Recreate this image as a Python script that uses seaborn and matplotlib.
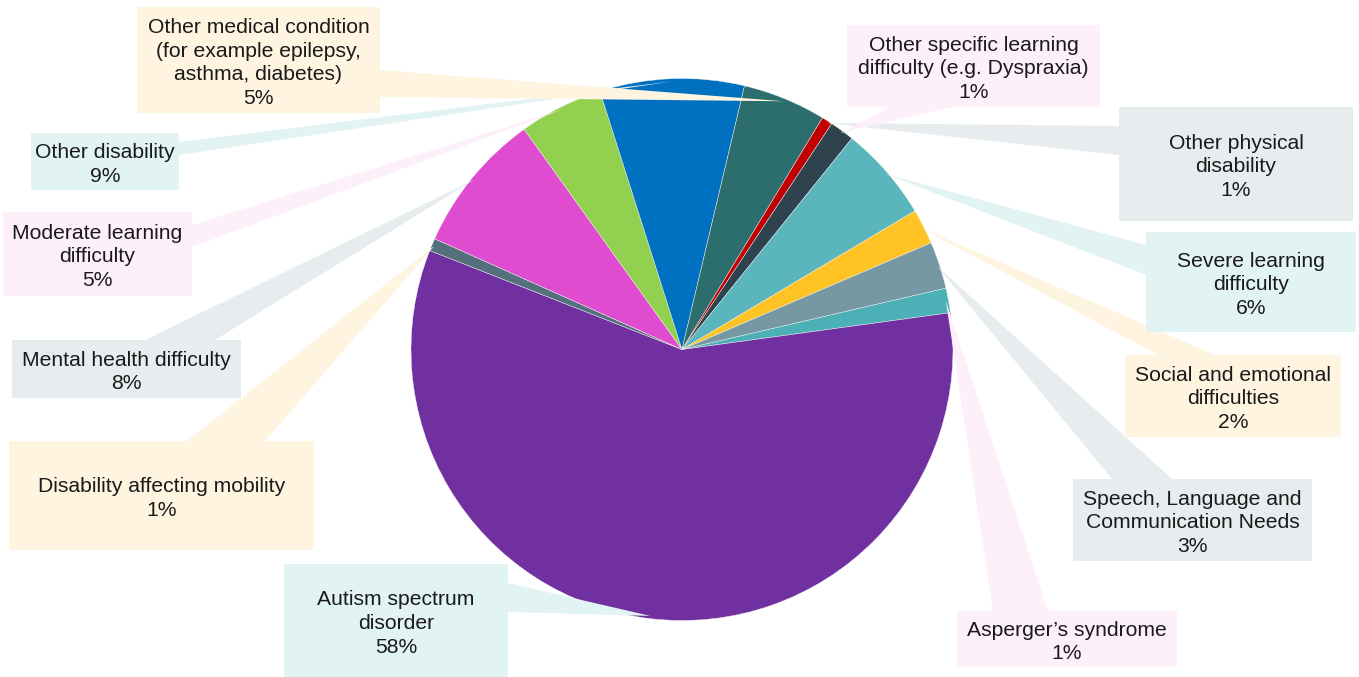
import numpy as np
import pandas as pd
import matplotlib
matplotlib.use("Agg")
import matplotlib.pyplot as plt
from matplotlib.patches import Rectangle, Polygon
import seaborn as sns

# ---------------- data ----------------
categories = [
    "Asperger’s syndrome",
    "Autism spectrum disorder",
    "Disability affecting mobility",
    "Mental health difficulty",
    "Moderate learning difficulty",
    "Other disability",
    "Other medical condition (for example epilepsy, asthma, diabetes)",
    "Other physical disability",
    "Other specific learning difficulty (e.g. Dyspraxia)",
    "Severe learning difficulty",
    "Social and emotional difficulties",
    "Speech, Language and Communication Needs",
]
label_lines = [
    "Asperger’s syndrome",
    "Autism spectrum\ndisorder",
    "Disability affecting mobility",
    "Mental health difficulty",
    "Moderate learning\ndifficulty",
    "Other disability",
    "Other medical condition\n(for example epilepsy,\nasthma, diabetes)",
    "Other physical\ndisability",
    "Other specific learning\ndifficulty (e.g. Dyspraxia)",
    "Severe learning\ndifficulty",
    "Social and emotional\ndifficulties",
    "Speech, Language and\nCommunication Needs",
]
shares = [1.47, 58.1, 0.75, 8.4, 5.0, 8.6, 4.97, 0.64, 1.47, 5.67, 2.1, 2.8]

# ---------------- styles ----------------
slice_colors = ["#4BB1B6", "#7030A0", "#53707C", "#E04CCF", "#92D050", "#0070C0",
                "#2C6E6E", "#C00000", "#2F434F", "#5BB5BC", "#FFC325", "#7598A3"]
PINK, TEAL, CREAM, GRAY = "#FDF0FA", "#E2F3F3", "#FEF4E0", "#E7ECEF"
box_colors = [PINK, TEAL, CREAM, GRAY, PINK, TEAL, CREAM, GRAY, PINK, TEAL, CREAM, GRAY]

# label layout in pixel units (x0, y0, x1, y1) measured from top-left
box_px = [
    (957, 611, 1177, 667),
    (284, 564, 508, 677),
    (9, 441, 314, 550),
    (12, 340, 241, 398),
    (3, 212, 192, 296),
    (31, 133, 179, 190),
    (137, 7, 380, 113),
    (1119, 107, 1353, 221),
    (847, 25, 1100, 107),
    (1146, 232, 1356, 332),
    (1125, 355, 1341, 437),
    (1073, 479, 1312, 561),
]
# leader base points on box edge (pixels from top-left)
base_px = [
    ((993, 611), (1048, 611)),
    ((508, 583), (508, 612)),
    ((187, 441), (265, 441)),
    ((145, 340), (215, 340)),
    ((192, 225), (192, 247)),
    ((179, 142), (179, 155)),
    ((380, 70), (380, 97)),
    ((1119, 126), (1119, 155)),
    ((890, 107), (952, 107)),
    ((1146, 245), (1146, 275)),
    ((1158, 355), (1215, 355)),
    ((1112, 479), (1172, 479)),
]

W, H = 1359, 677
CX, CY, R = 682, H - 349.5, 271
FIRST_SLICE_CLOCK_DEG = 76.9  # start of first slice, clockwise from 12 o'clock
TEXT_SHIFT = 3  # px downward

sns.set_theme(style="white")
plt.rcParams["font.family"] = ["Liberation Sans", "DejaVu Sans"]

fig = plt.figure(figsize=(W / 100, H / 100), dpi=100)
ax = fig.add_axes([0, 0, 1, 1])

palette = sns.color_palette(slice_colors)
wedges, _ = ax.pie(shares, colors=palette, startangle=90 - FIRST_SLICE_CLOCK_DEG,
                   counterclock=False, center=(CX, CY), radius=R,
                   wedgeprops=dict(linewidth=0.3, edgecolor="#f4f4f4"), frame=False)
ax.set_xlim(0, W)
ax.set_ylim(0, H)
ax.set_aspect("equal")
ax.axis("off")

total = sum(shares)
for i, w in enumerate(wedges):
    mid = np.deg2rad((w.theta1 + w.theta2) / 2)
    tip = (CX + 0.99 * R * np.cos(mid), CY + 0.99 * R * np.sin(mid))
    (bx1, by1), (bx2, by2) = base_px[i]
    leader = Polygon([(bx1, H - by1), (bx2, H - by2), tip], closed=True,
                     facecolor=box_colors[i], edgecolor="none", zorder=3)
    ax.add_patch(leader)
    x0, y0, x1, y1 = box_px[i]
    ax.add_patch(Rectangle((x0, H - y1), x1 - x0, y1 - y0,
                           facecolor=box_colors[i], edgecolor="none", zorder=4))
    pct = f"{round(shares[i] / total * 100)}%"
    ax.text((x0 + x1) / 2, H - (y0 + y1) / 2 - TEXT_SHIFT, label_lines[i] + "\n" + pct,
            ha="center", va="center", multialignment="center",
            fontsize=15.2, color="#1a1a1a", linespacing=1.33, zorder=5)

fig.savefig("out.png", dpi=100)
